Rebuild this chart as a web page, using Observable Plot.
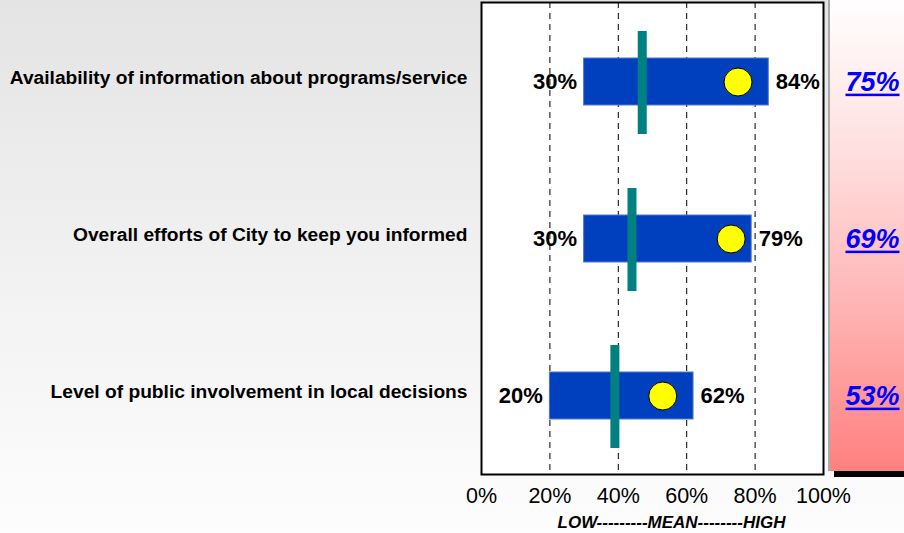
<!DOCTYPE html>
<html>
<head>
<meta charset="utf-8">
<script src="https://cdn.jsdelivr.net/npm/d3@7"></script>
<script src="https://cdn.jsdelivr.net/npm/@observablehq/plot@0.6"></script>
<style>
  html, body { margin: 0; padding: 0; }
  #wrap {
    position: relative; width: 904px; height: 533px; overflow: hidden;
    background: linear-gradient(to bottom, #e4e4e4 0%, #f1f1f1 50%, #fdfdfd 100%);
    font-family: "Liberation Sans", Arial, sans-serif;
  }
  #panel {
    position: absolute; left: 828px; top: -1px; width: 90px; height: 471px;
    border-left: 2px solid #aaa; border-top: 1px solid #999;
    background: linear-gradient(to bottom, #ffffff 0%, #ffdcdc 35%, #ffb4b4 65%, #ff8080 100%);
    box-shadow: 6px 6px 0 #000;
  }
  #chart { position: absolute; left: 0; top: 0; }
</style>
</head>
<body>
<div id="wrap">
  <div id="panel"></div>
  <div id="chart"></div>
</div>
<script>
const categories = [
  "Availability of information about programs/service",
  "Overall efforts of City to keep you informed",
  "Level of public involvement in local decisions"
];
const lows = [30, 30, 20];
const highs = [84, 79, 62];
const means = [47, 44, 39];
const markerValues = [75, 73, 53];
const scores = [75, 69, 53];
const xTicks = [0, 20, 40, 60, 80, 100];
const gridTicks = [20, 40, 60, 80];
const xTitle = "LOW---------MEAN--------HIGH";

const rows = categories.map((c, i) => ({
  cat: c, low: lows[i], high: highs[i], mean: means[i], marker: markerValues[i], score: scores[i]
}));

const font = "'Liberation Sans', Arial, sans-serif";

const svg = Plot.plot({
  width: 904,
  height: 533,
  marginLeft: 481,
  marginRight: 81,
  marginTop: 2,
  marginBottom: 59,
  style: { background: "transparent", fontFamily: font, overflow: "visible" },
  x: { domain: [0, 100] },
  y: { domain: categories, padding: 0 },
  marks: [
    Plot.frame({ fill: "white", stroke: null }),
    Plot.ruleX(gridTicks, { stroke: "black", strokeWidth: 1, strokeDasharray: "6,5" }),
    Plot.barX(rows, { y: "cat", x1: "low", x2: "high", fill: "#0040bf", stroke: "#5577cc", strokeWidth: 1, insetTop: 55, insetBottom: 55 }),
    Plot.tickX(rows, { y: "cat", x: "mean", stroke: "#008080", strokeWidth: 9, insetTop: 28, insetBottom: 26 }),
    Plot.dot(rows, { y: "cat", x: "marker", r: 14, fill: "yellow", stroke: "black", strokeWidth: 1 }),
    Plot.text(rows, { y: "cat", x: "low", text: d => d.low + "%", textAnchor: "end", dx: -7, fontSize: 22, fontWeight: "bold", fill: "black" }),
    Plot.text(rows, { y: "cat", x: "high", text: d => d.high + "%", textAnchor: "start", dx: 7, fontSize: 22, fontWeight: "bold", fill: "black" }),
    Plot.text(rows, { y: "cat", text: d => d.score + "%", frameAnchor: "right", textAnchor: "middle", dx: 49, fontSize: 27, fontWeight: "bold", fontStyle: "italic", fill: "blue" }),
    Plot.frame({ stroke: "black", strokeWidth: 2 }),
    Plot.axisX(xTicks, { tickSize: 0, tickPadding: 13, tickFormat: d => d + "%", fontSize: 21.5, fill: "black", label: null }),
    Plot.axisY({ tickSize: 0, tickPadding: 14, fontSize: 19.2, fontWeight: "bold", fill: "black", dy: -4, label: null }),
    Plot.text([xTitle], { frameAnchor: "bottom", dy: 48, dx: 19, lineAnchor: "middle", fontSize: 17, fontWeight: "bold", fontStyle: "italic", fill: "black" })
  ]
});

document.getElementById("chart").appendChild(svg);

// underline the blue score labels (measured from the rendered text)
const blueTexts = Array.from(svg.querySelectorAll("text")).filter(t => {
  const f = getComputedStyle(t).fill;
  return f === "rgb(0, 0, 255)" || f === "blue";
});
for (const t of blueTexts) {
  const b = t.getBBox();
  const r = document.createElementNS("http://www.w3.org/2000/svg", "rect");
  r.setAttribute("x", b.x);
  r.setAttribute("y", b.y + b.height - 3);
  r.setAttribute("width", b.width);
  r.setAttribute("height", 2.5);
  r.setAttribute("fill", "blue");
  const tr = t.getAttribute("transform");
  if (tr) r.setAttribute("transform", tr);
  t.parentNode.insertBefore(r, t.nextSibling);
}
</script>
</body>
</html>
